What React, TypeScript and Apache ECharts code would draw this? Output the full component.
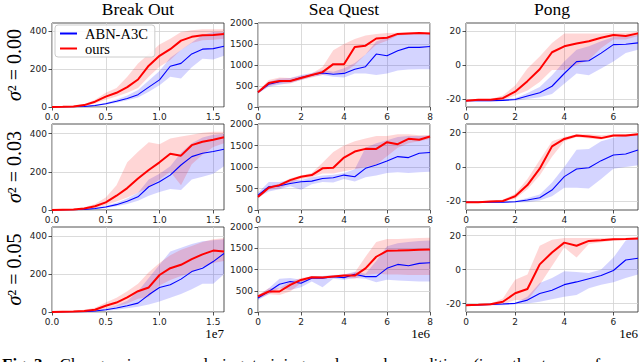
import React, { useEffect, useRef } from "react";
import * as echarts from "echarts";

// ---------- labels ----------
const GAMES = ["Break Out", "Sea Quest", "Pong"];
const NOISE_LABELS = ["0.00", "0.03", "0.05"];
const OFFSET_LABELS = ["1e7", "1e6", "1e6"];
const SERIES_NAMES = ["ABN-A3C", "ours"];
const CAPTION_BOLD = "Fig. 3.";
const CAPTION_TEXT = "Changes in scores during training under each condition (i.e., the types of";

// ---------- x values (training steps) ----------
const X_BREAKOUT = [0, 0.1, 0.2, 0.3, 0.4, 0.5, 0.6, 0.7, 0.8, 0.9, 1.0, 1.1, 1.2, 1.3, 1.4, 1.5, 1.6];
const X_SEAQUEST = [0, 0.5, 1, 1.5, 2, 2.5, 3, 3.5, 4, 4.5, 5, 5.5, 6, 6.5, 7, 7.5, 8];
const X_PONG = [0, 0.5, 1, 1.5, 2, 2.5, 3, 3.5, 4, 4.5, 5, 5.5, 6, 6.5, 7];

// ---------- ticks ----------
const X_TICKS_BREAKOUT = [0, 0.5, 1.0, 1.5];
const X_TICKS_SEAQUEST = [0, 2, 4, 6, 8];
const X_TICKS_PONG = [0, 2, 4, 6];
const Y_TICKS_BREAKOUT = [0, 200, 400];
const Y_TICKS_SEAQUEST = [0, 500, 1000, 1500, 2000];
const Y_TICKS_PONG = [-20, 0, 20];

// ---------- Break Out ----------
const BO0_OURS_MEAN = [0, 1, 3, 10, 28, 55, 75, 105, 145, 218, 270, 305, 350, 370, 378, 380, 385];
const BO0_OURS_LO = [0, 0, 1, 5, 18, 38, 55, 75, 100, 160, 212, 248, 300, 338, 352, 355, 360];
const BO0_OURS_HI = [0, 2, 6, 16, 38, 75, 100, 160, 230, 280, 330, 360, 395, 405, 410, 410, 410];
const BO0_ABN_MEAN = [0, 0, 1, 3, 8, 17, 30, 45, 65, 105, 143, 215, 230, 280, 305, 308, 320];
const BO0_ABN_LO = [0, 0, 0, 1, 5, 12, 22, 35, 50, 80, 115, 160, 150, 210, 255, 250, 270];
const BO0_ABN_HI = [0, 1, 2, 5, 12, 22, 40, 60, 90, 140, 190, 260, 300, 340, 380, 395, 395];

const BO1_OURS_MEAN = [0, 1, 2, 8, 20, 40, 75, 115, 165, 210, 250, 295, 285, 340, 358, 368, 382];
const BO1_OURS_LO = [0, 0, 1, 4, 12, 25, 45, 65, 90, 120, 160, 200, 130, 240, 290, 330, 350];
const BO1_OURS_HI = [1, 2, 5, 14, 32, 65, 130, 250, 305, 355, 345, 375, 385, 395, 405, 410, 410];
const BO1_ABN_MEAN = [0, 0, 1, 3, 8, 16, 28, 46, 69, 122, 148, 183, 236, 280, 298, 307, 319];
const BO1_ABN_LO = [0, 0, 0, 1, 4, 10, 20, 32, 48, 75, 95, 110, 105, 160, 175, 190, 230];
const BO1_ABN_HI = [0, 1, 2, 5, 12, 22, 38, 60, 90, 160, 190, 230, 300, 350, 380, 395, 400];

const BO2_OURS_MEAN = [0, 1, 2, 5, 12, 33, 50, 77, 110, 130, 196, 232, 250, 280, 305, 325, 320];
const BO2_OURS_LO = [0, 0, 0, 2, 5, 18, 30, 45, 70, 80, 140, 170, 190, 210, 240, 260, 270];
const BO2_OURS_HI = [1, 3, 6, 12, 22, 50, 75, 110, 150, 210, 260, 300, 330, 350, 370, 385, 390];
const BO2_ABN_MEAN = [0, 0, 1, 2, 5, 12, 21, 33, 47, 91, 130, 144, 174, 214, 232, 267, 310];
const BO2_ABN_LO = [0, 0, 0, 1, 2, 6, 12, 20, 28, 40, 55, 75, 95, 120, 150, 150, 200];
const BO2_ABN_HI = [0, 1, 2, 4, 8, 18, 35, 60, 110, 180, 250, 320, 340, 360, 375, 380, 385];

// ---------- Sea Quest ----------
const SQ0_OURS_MEAN = [350, 570, 620, 620, 690, 760, 830, 1020, 1020, 1430, 1460, 1630, 1650, 1740, 1750, 1760, 1750];
const SQ0_OURS_LO = [320, 500, 560, 560, 640, 700, 760, 800, 820, 1000, 1250, 1480, 1580, 1700, 1720, 1730, 1720];
const SQ0_OURS_HI = [380, 640, 700, 690, 740, 800, 950, 1350, 1500, 1620, 1700, 1740, 1760, 1770, 1780, 1780, 1780];
const SQ0_ABN_MEAN = [350, 540, 600, 620, 700, 760, 810, 780, 800, 900, 960, 1260, 1220, 1340, 1420, 1420, 1440];
const SQ0_ABN_LO = [320, 480, 530, 570, 640, 720, 760, 720, 700, 800, 800, 760, 800, 870, 890, 900, 900];
const SQ0_ABN_HI = [380, 600, 680, 690, 760, 810, 880, 840, 920, 1050, 1250, 1560, 1650, 1720, 1750, 1750, 1740];

const SQ1_OURS_MEAN = [305, 516, 578, 695, 773, 812, 969, 984, 1219, 1359, 1422, 1420, 1578, 1531, 1656, 1633, 1711];
const SQ1_OURS_LO = [280, 470, 500, 620, 720, 760, 850, 850, 900, 950, 1000, 1050, 1250, 1450, 1550, 1600, 1650];
const SQ1_OURS_HI = [340, 560, 610, 740, 800, 860, 1100, 1350, 1500, 1600, 1660, 1720, 1720, 1760, 1760, 1740, 1740];
const SQ1_ABN_MEAN = [344, 540, 562, 617, 656, 672, 734, 750, 812, 773, 969, 1047, 1140, 1242, 1219, 1320, 1336];
const SQ1_ABN_LO = [290, 430, 480, 550, 470, 600, 650, 640, 720, 660, 760, 800, 860, 880, 860, 880, 890];
const SQ1_ABN_HI = [400, 650, 650, 700, 700, 760, 800, 820, 860, 950, 1450, 1550, 1620, 1700, 1720, 1720, 1730];

const SQ2_OURS_MEAN = [366, 482, 482, 638, 755, 817, 809, 833, 856, 856, 1027, 1300, 1440, 1445, 1455, 1465, 1470];
const SQ2_OURS_LO = [320, 420, 400, 480, 680, 790, 780, 810, 820, 780, 870, 900, 880, 880, 870, 870, 870];
const SQ2_OURS_HI = [400, 560, 560, 720, 800, 840, 840, 860, 880, 930, 1300, 1650, 1720, 1720, 1730, 1740, 1750];
const SQ2_ABN_MEAN = [330, 482, 654, 716, 677, 794, 794, 833, 809, 887, 833, 833, 1027, 1120, 1090, 1144, 1160];
const SQ2_ABN_LO = [280, 420, 560, 520, 580, 720, 580, 780, 760, 800, 780, 700, 760, 740, 730, 720, 720];
const SQ2_ABN_HI = [380, 560, 780, 800, 760, 850, 850, 870, 880, 950, 900, 1200, 1550, 1620, 1650, 1670, 1680];

// ---------- Pong ----------
const PO0_OURS_MEAN = [-21, -20.5, -20.5, -19.5, -15.7, -9.5, -2.5, 7.5, 11, 12.7, 14, 16, 17.6, 17, 18.6];
const PO0_OURS_LO = [-21.5, -21, -21, -20.5, -18, -15, -10, -3, -3, 0, 3, 10, 15, 15, 17];
const PO0_OURS_HI = [-20.5, -20, -20, -18, -12, -2, 5, 13, 18.5, 18.5, 18.5, 18.5, 19, 19, 19.5];
const PO0_ABN_MEAN = [-21, -21, -21, -20.8, -20.3, -18.2, -16.3, -12.5, -5, 2, 2.5, 7, 12, 12.2, 13];
const PO0_ABN_LO = [-21.5, -21.5, -21.5, -21, -21, -20, -19, -17, -11, -5, -6, -2, 2, 7, 9];
const PO0_ABN_HI = [-20.5, -20.5, -20.5, -20.2, -19.5, -16.5, -13, -6, 2, 9, 11, 14, 16.5, 17, 17.5];

const PO1_OURS_MEAN = [-20.5, -20.5, -20, -19.8, -17, -10.5, -1, 12, 16.3, 18.3, 17.7, 16.8, 18.3, 18.3, 19];
const PO1_OURS_LO = [-21, -21, -20.5, -20.3, -18.5, -13, -5, 6, 15, 17.5, 16.5, 16, 17.5, 17.5, 18.5];
const PO1_OURS_HI = [-20, -20, -19.5, -19, -15.5, -7, 4, 15, 17.5, 19, 19, 18.5, 19, 19, 19.5];
const PO1_ABN_MEAN = [-20.5, -20.5, -20.5, -20.5, -20.2, -19.2, -17.9, -13.4, -5.6, -1.2, -0.4, 3.7, 7, 7.6, 9.9];
const PO1_ABN_LO = [-21, -21, -21, -21, -20.7, -20.5, -19.5, -17, -12, -12, -12.5, -7, -1, 0, 1];
const PO1_ABN_HI = [-20, -20, -20, -20, -19.8, -18, -16, -9, 0, 10, 10.5, 15, 17, 18.5, 19];

const PO2_OURS_MEAN = [-21, -20.8, -20.5, -19, -14, -11.5, 3, 10, 15.8, 14, 16.8, 17.2, 17.8, 17.9, 18.2];
const PO2_OURS_LO = [-21.5, -21.3, -21, -20.5, -18, -18, -9, 2, 13, 7, 15, 16, 17, 17.3, 17.7];
const PO2_OURS_HI = [-20.5, -20.3, -20, -17, -6, -3, 14, 17.5, 18.5, 18.5, 18.5, 18.5, 18.5, 18.5, 18.7];
const PO2_ABN_MEAN = [-21, -20.8, -20.5, -20.3, -19.9, -18, -14.1, -12.2, -8.9, -7.3, -5.4, -3.5, -0.6, 5.6, 6.6];
const PO2_ABN_LO = [-21.5, -21.3, -21, -21, -20.5, -20, -19, -17.5, -16, -15, -11, -9, -7.5, -5, -3];
const PO2_ABN_HI = [-20.5, -20.3, -20, -20, -19.5, -16, -8, -5, -1, -1.5, -2, 0, 7, 17, 19];

// ---------- layout (pixels) ----------
const COL_LEFT = [52, 258, 466];
const COL_W = [172, 172, 172];
const ROW_TOP = [23, 124, 227];
const ROW_H = [84, 86, 85];

const BLUE = "#0000ff";
const RED = "#ff0000";
const BLUE_BAND = "rgba(0,0,255,0.17)";
const RED_BAND = "rgba(255,0,0,0.16)";
const FRAME = "#262626";
const GRIDLINE = "#d2d2d2";
const SERIF = "Liberation Serif";

type Panel = {
  x: number[];
  xMax: number;
  xTicks: number[];
  xFmt: (v: number) => string;
  yMin: number;
  yMax: number;
  yTicks: number[];
  abn: number[][];
  ours: number[][];
};

const fmt1 = (v: number) => v.toFixed(1);
const fmt0 = (v: number) => String(v);

const PANELS: Panel[] = [
  { x: X_BREAKOUT, xMax: 1.6, xTicks: X_TICKS_BREAKOUT, xFmt: fmt1, yMin: 0, yMax: 443, yTicks: Y_TICKS_BREAKOUT,
    abn: [BO0_ABN_MEAN, BO0_ABN_LO, BO0_ABN_HI], ours: [BO0_OURS_MEAN, BO0_OURS_LO, BO0_OURS_HI] },
  { x: X_SEAQUEST, xMax: 8, xTicks: X_TICKS_SEAQUEST, xFmt: fmt0, yMin: 0, yMax: 2000, yTicks: Y_TICKS_SEAQUEST,
    abn: [SQ0_ABN_MEAN, SQ0_ABN_LO, SQ0_ABN_HI], ours: [SQ0_OURS_MEAN, SQ0_OURS_LO, SQ0_OURS_HI] },
  { x: X_PONG, xMax: 7, xTicks: X_TICKS_PONG, xFmt: fmt0, yMin: -24.7, yMax: 24.7, yTicks: Y_TICKS_PONG,
    abn: [PO0_ABN_MEAN, PO0_ABN_LO, PO0_ABN_HI], ours: [PO0_OURS_MEAN, PO0_OURS_LO, PO0_OURS_HI] },
  { x: X_BREAKOUT, xMax: 1.6, xTicks: X_TICKS_BREAKOUT, xFmt: fmt1, yMin: 0, yMax: 451, yTicks: Y_TICKS_BREAKOUT,
    abn: [BO1_ABN_MEAN, BO1_ABN_LO, BO1_ABN_HI], ours: [BO1_OURS_MEAN, BO1_OURS_LO, BO1_OURS_HI] },
  { x: X_SEAQUEST, xMax: 8, xTicks: X_TICKS_SEAQUEST, xFmt: fmt0, yMin: 0, yMax: 2000, yTicks: Y_TICKS_SEAQUEST,
    abn: [SQ1_ABN_MEAN, SQ1_ABN_LO, SQ1_ABN_HI], ours: [SQ1_OURS_MEAN, SQ1_OURS_LO, SQ1_OURS_HI] },
  { x: X_PONG, xMax: 7, xTicks: X_TICKS_PONG, xFmt: fmt0, yMin: -25, yMax: 25, yTicks: Y_TICKS_PONG,
    abn: [PO1_ABN_MEAN, PO1_ABN_LO, PO1_ABN_HI], ours: [PO1_OURS_MEAN, PO1_OURS_LO, PO1_OURS_HI] },
  { x: X_BREAKOUT, xMax: 1.6, xTicks: X_TICKS_BREAKOUT, xFmt: fmt1, yMin: 0, yMax: 450, yTicks: Y_TICKS_BREAKOUT,
    abn: [BO2_ABN_MEAN, BO2_ABN_LO, BO2_ABN_HI], ours: [BO2_OURS_MEAN, BO2_OURS_LO, BO2_OURS_HI] },
  { x: X_SEAQUEST, xMax: 8, xTicks: X_TICKS_SEAQUEST, xFmt: fmt0, yMin: 0, yMax: 2000, yTicks: Y_TICKS_SEAQUEST,
    abn: [SQ2_ABN_MEAN, SQ2_ABN_LO, SQ2_ABN_HI], ours: [SQ2_OURS_MEAN, SQ2_OURS_LO, SQ2_OURS_HI] },
  { x: X_PONG, xMax: 7, xTicks: X_TICKS_PONG, xFmt: fmt0, yMin: -25, yMax: 25, yTicks: Y_TICKS_PONG,
    abn: [PO2_ABN_MEAN, PO2_ABN_LO, PO2_ABN_HI], ours: [PO2_OURS_MEAN, PO2_OURS_LO, PO2_OURS_HI] },
];

function bandSeries(i: number, xs: number[], lo: number[], hi: number[], color: string, z: number) {
  return {
    type: "custom",
    name: "band",
    xAxisIndex: i,
    yAxisIndex: i,
    silent: true,
    z,
    clip: true,
    data: xs.map((x, k) => [x, lo[k], hi[k]]),
    encode: { x: 0, y: [1, 2] },
    renderItem: (params: any, api: any) => {
      if (params.dataIndex !== 0) return null;
      const pts: number[][] = [];
      for (let k = 0; k < xs.length; k++) pts.push(api.coord([xs[k], hi[k]]));
      for (let k = xs.length - 1; k >= 0; k--) pts.push(api.coord([xs[k], lo[k]]));
      return { type: "polygon", shape: { points: pts }, style: { fill: color, stroke: "none" } };
    },
  };
}

function lineSeries(i: number, name: string, xs: number[], ys: number[], color: string, width: number, z: number) {
  return {
    type: "line",
    name,
    xAxisIndex: i,
    yAxisIndex: i,
    data: xs.map((x, k) => [x, ys[k]]),
    symbol: "none",
    showSymbol: false,
    silent: true,
    z,
    clip: true,
    lineStyle: { color, width },
    itemStyle: { color },
  };
}

function textStyle(text: string, size: number, align: string, vAlign: string, extra: any = {}) {
  return {
    text,
    fontFamily: SERIF,
    fontSize: size,
    fontWeight: "normal",
    fill: "#000",
    stroke: "none",
    lineWidth: 0,
    align,
    verticalAlign: vAlign,
    ...extra,
  };
}

function buildOption() {
  const grid: any[] = [];
  const xAxis: any[] = [];
  const yAxis: any[] = [];
  const series: any[] = [];
  const tickLabel = { fontFamily: "DejaVu Sans", fontSize: 9, color: "#222" };

  PANELS.forEach((p, i) => {
    const r = Math.floor(i / 3);
    const c = i % 3;
    grid.push({
      left: COL_LEFT[c], top: ROW_TOP[r], width: COL_W[c], height: ROW_H[r],
      show: true, borderColor: FRAME, borderWidth: 0.8, backgroundColor: "transparent",
      containLabel: false, outerBoundsMode: "none",
    });
    xAxis.push({
      type: "value", gridIndex: i, min: 0, max: p.xMax,
      axisLine: { show: false, onZero: false },
      axisTick: { show: true, length: 3.5, lineStyle: { color: FRAME, width: 0.8 }, customValues: p.xTicks },
      axisLabel: { ...tickLabel, margin: 5, customValues: p.xTicks, formatter: (v: number) => p.xFmt(v) },
      splitLine: { show: true, lineStyle: { color: GRIDLINE, width: 0.8 } },
    });
    yAxis.push({
      type: "value", gridIndex: i, min: p.yMin, max: p.yMax,
      axisLine: { show: false, onZero: false },
      axisTick: { show: true, length: 3.5, lineStyle: { color: FRAME, width: 0.8 }, customValues: p.yTicks },
      axisLabel: { ...tickLabel, margin: 5, customValues: p.yTicks, formatter: (v: number) => String(v) },
      splitLine: { show: true, lineStyle: { color: GRIDLINE, width: 0.8 } },
    });
    series.push(bandSeries(i, p.x, p.abn[1], p.abn[2], BLUE_BAND, 2));
    series.push(bandSeries(i, p.x, p.ours[1], p.ours[2], RED_BAND, 3));
    series.push(lineSeries(i, SERIES_NAMES[0], p.x, p.abn[0], BLUE, 1.1, 4));
    series.push(lineSeries(i, SERIES_NAMES[1], p.x, p.ours[0], RED, 2, 5));
  });

  const graphic: any[] = [];
  GAMES.forEach((g, c) => {
    graphic.push({
      type: "text", x: COL_LEFT[c] + COL_W[c] / 2, y: 9, silent: true,
      style: textStyle(g, 17.5, "center", "middle"),
    });
  });
  NOISE_LABELS.forEach((n, r) => {
    graphic.push({
      type: "text", x: 14, y: ROW_TOP[r] + ROW_H[r] / 2, rotation: Math.PI / 2, silent: true,
      style: textStyle(`{s|σ}{n|² = ${n}}`, 20, "center", "middle", {
        rich: {
          s: { fontFamily: SERIF, fontStyle: "italic", fontSize: 20, fontWeight: "normal", fill: "#000" },
          n: { fontFamily: SERIF, fontSize: 20, fontWeight: "normal", fill: "#000" },
        },
      }),
    });
  });
  OFFSET_LABELS.forEach((t, c) => {
    graphic.push({
      type: "text", x: COL_LEFT[c] + COL_W[c], y: 333, silent: true,
      style: textStyle(t, 13, "right", "middle"),
    });
  });
  const spaced = CAPTION_TEXT.split(" ").join("\u00a0\u00a0");
  graphic.push({
    type: "text", x: 2, y: 356, silent: true,
    style: textStyle(`{b|${CAPTION_BOLD}}{n|\u00a0\u00a0\u00a0${spaced}}`, 17, "left", "top", {
      rich: {
        b: { fontFamily: SERIF, fontWeight: "bold", fontSize: 17, fill: "#000" },
        n: { fontFamily: SERIF, fontWeight: "normal", fontSize: 17, fill: "#000" },
      },
    }),
  });

  return {
    animation: false,
    backgroundColor: "#ffffff",
    grid, xAxis, yAxis, series, graphic,
    legend: {
      data: [
        { name: SERIES_NAMES[0], icon: "rect", itemStyle: { color: BLUE } },
        { name: SERIES_NAMES[1], icon: "rect", itemStyle: { color: RED } },
      ],
      left: 55, top: 25, orient: "vertical",
      itemWidth: 17, itemHeight: 2, itemGap: 0,
      padding: [1, 7, 1, 5],
      backgroundColor: "rgba(255,255,255,0.85)",
      borderColor: "#cccccc", borderWidth: 1, borderRadius: 3,
      selectedMode: false, z: 20,
      textStyle: { fontFamily: SERIF, fontSize: 14.5, color: "#000", lineHeight: 14, padding: [0, 0, 0, 3] },
    },
  };
}

export default function App() {
  const ref = useRef<HTMLDivElement>(null);
  useEffect(() => {
    if (!ref.current) return;
    const chart = echarts.init(ref.current, null, { renderer: "svg" });
    chart.setOption(buildOption() as any);
    return () => chart.dispose();
  }, []);
  return (
    <div
      ref={ref}
      style={{ position: "absolute", left: 0, top: 0, width: 640, height: 362, background: "#fff" }}
    />
  );
}
